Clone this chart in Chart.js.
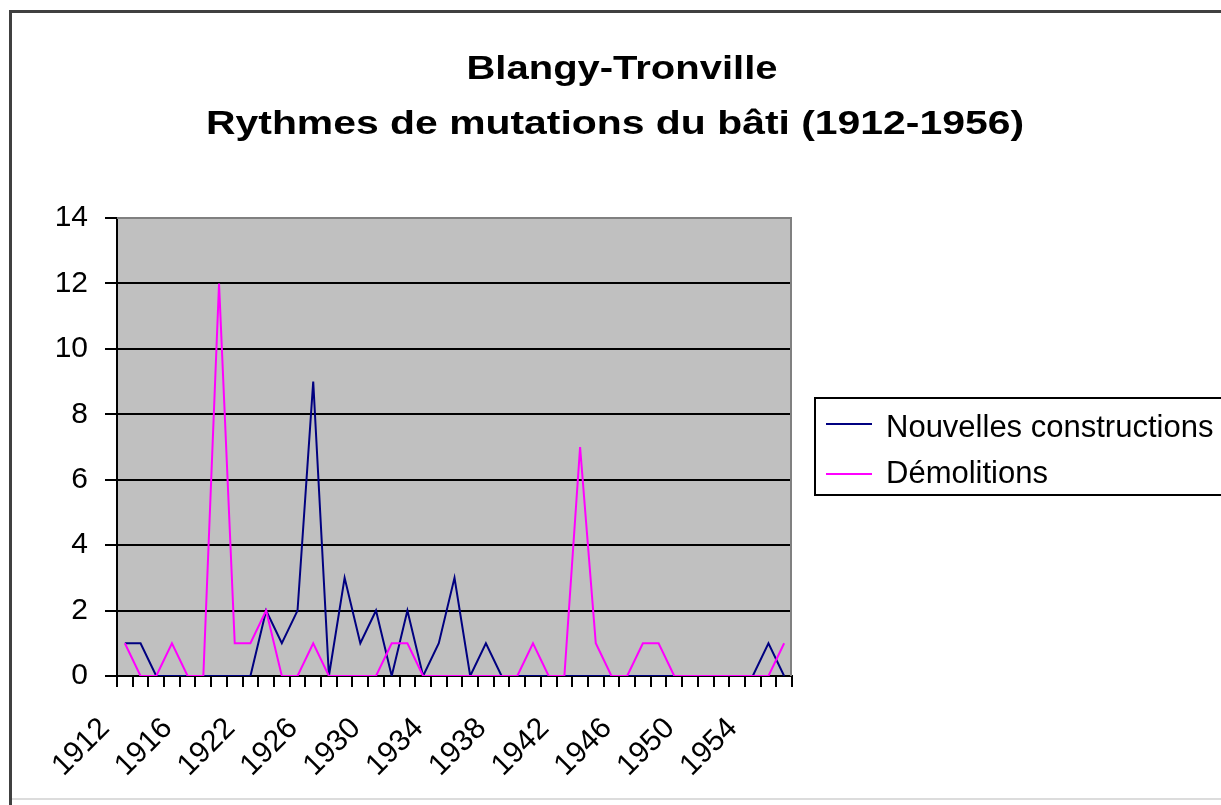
<!DOCTYPE html>
<html><head><meta charset="utf-8">
<script src="https://cdn.jsdelivr.net/npm/chart.js@4.4.1/dist/chart.umd.min.js"></script>
<style>html,body{margin:0;padding:0;background:#fff;overflow:hidden}canvas{display:block}</style>
</head><body>
<canvas id="c" width="1221" height="805"></canvas>
<script>
// ---- data ----
const years = [1912,1913,1914,1915,1916,1917,1918,1921,1922,1923,1924,1925,1926,1927,1928,1929,1930,1931,1932,1933,1934,1935,1936,1937,1938,1939,1940,1941,1942,1943,1944,1945,1946,1947,1948,1949,1950,1951,1952,1953,1954,1955,1956];
const nouvellesConstructions = [1,1,0,0,0,0,0,0,0,2,1,2,9,0,3,1,2,0,2,0,1,3,0,1,0,0,0,0,0,0,0,0,0,0,0,0,0,0,0,0,0,1,0];
const demolitions = [1,0,0,1,0,0,12,1,1,2,0,0,1,0,0,0,0,1,1,0,0,0,0,0,0,0,1,0,0,7,1,0,0,1,1,0,0,0,0,0,0,0,1];
const xTickLabels = ['1912','1916','1922','1926','1930','1934','1938','1942','1946','1950','1954'];
const yTickValues = [0,2,4,6,8,10,12,14];
const titleLines = ['Blangy-Tronville','Rythmes de mutations du bâti (1912-1956)'];
const seriesNames = ['Nouvelles constructions','Démolitions'];
const seriesColors = ['#000080','#ff00ff'];

const FONT = '"Liberation Sans", Arial, sans-serif';

const decor = {
  id: 'decor',
  beforeDraw(chart) {
    const {ctx, chartArea: a} = chart;
    ctx.save();
    ctx.fillStyle = '#fff';
    ctx.fillRect(0, 0, chart.width, chart.height);
    ctx.strokeStyle = '#dcdcdc'; ctx.lineWidth = 2;
    ctx.beginPath(); ctx.moveTo(10, 799); ctx.lineTo(1230, 799); ctx.stroke();
    ctx.strokeStyle = '#404040'; ctx.lineWidth = 3;
    ctx.beginPath(); ctx.moveTo(1230, 11.5); ctx.lineTo(10.5, 11.5); ctx.lineTo(10.5, 805); ctx.stroke();
    ctx.fillStyle = '#c0c0c0';
    ctx.fillRect(a.left, a.top, a.right - a.left, a.bottom - a.top);
    ctx.restore();
  },
  beforeDatasetsDraw(chart) {
    const {ctx, chartArea: a} = chart;
    ctx.save();
    ctx.strokeStyle = '#808080'; ctx.lineWidth = 2;
    ctx.beginPath(); ctx.moveTo(a.left, a.top); ctx.lineTo(a.right - 1, a.top); ctx.lineTo(a.right - 1, a.bottom); ctx.stroke();
    ctx.restore();
  },
  afterDraw(chart) {
    const {ctx} = chart;
    ctx.save();
    ctx.fillStyle = '#000';
    ctx.textAlign = 'center';
    ctx.textBaseline = 'alphabetic';
    ctx.font = 'bold 33px ' + FONT;
    const tl = [{t: titleLines[0], cx: 622, y: 79, w: 311}, {t: titleLines[1], cx: 615, y: 134, w: 818}];
    tl.forEach(o => {
      const mw = ctx.measureText(o.t).width;
      ctx.save();
      ctx.translate(o.cx, o.y);
      ctx.scale(o.w / mw, 1);
      ctx.fillText(o.t, 0, 0);
      ctx.restore();
    });
    ctx.strokeStyle = '#000'; ctx.lineWidth = 2;
    ctx.strokeRect(815, 398, 500, 97);
    const ly = [424, 474], lb = [437, 483];
    seriesNames.forEach((n, i) => {
      ctx.strokeStyle = seriesColors[i]; ctx.lineWidth = 2;
      ctx.beginPath(); ctx.moveTo(826, ly[i]); ctx.lineTo(872, ly[i]); ctx.stroke();
      ctx.fillStyle = '#000';
      ctx.textAlign = 'left';
      ctx.font = '31px ' + FONT;
      ctx.fillText(n, 886, lb[i]);
    });
    ctx.restore();
  }
};

new Chart(document.getElementById('c'), {
  type: 'line',
  data: {
    labels: years.map(String),
    datasets: [
      {label: seriesNames[0], data: nouvellesConstructions, borderColor: seriesColors[0], backgroundColor: seriesColors[0], order: 1},
      {label: seriesNames[1], data: demolitions, borderColor: seriesColors[1], backgroundColor: seriesColors[1], order: 0}
    ]
  },
  options: {
    responsive: false,
    animation: false,
    devicePixelRatio: 1,
    layout: {padding: {left: 10, top: 218, right: 429, bottom: 0}},
    elements: {point: {radius: 0}, line: {tension: 0, borderWidth: 2}},
    plugins: {legend: {display: false}, title: {display: false}, tooltip: {enabled: false}},
    scales: {
      x: {
        type: 'category',
        offset: true,
        grid: {display: true, drawOnChartArea: false, drawTicks: true, tickLength: 11, offset: true, color: '#000', lineWidth: 2},
        border: {display: true, color: '#000', width: 2},
        ticks: {
          autoSkip: false, maxRotation: 45, minRotation: 45, padding: 24, labelOffset: -20,
          color: '#000', font: {family: FONT, size: 30},
          callback: function(v, i) { const l = this.getLabelForValue(v); return xTickLabels.includes(l) ? l : ''; }
        },
        afterFit: s => { s.height = 129; }
      },
      y: {
        min: 0, max: 14,
        afterBuildTicks: s => { s.ticks = yTickValues.map(v => ({value: v})); },
        grid: {color: c => (c.tick && c.tick.value === 14) ? '#808080' : '#000', tickColor: '#000', lineWidth: 2, tickLength: 12},
        border: {display: true, color: '#000', width: 2},
        ticks: {padding: 17, color: '#000', font: {family: FONT, size: 30}},
        afterFit: s => { s.width = 107; }
      }
    }
  },
  plugins: [decor]
});
</script>
</body></html>
